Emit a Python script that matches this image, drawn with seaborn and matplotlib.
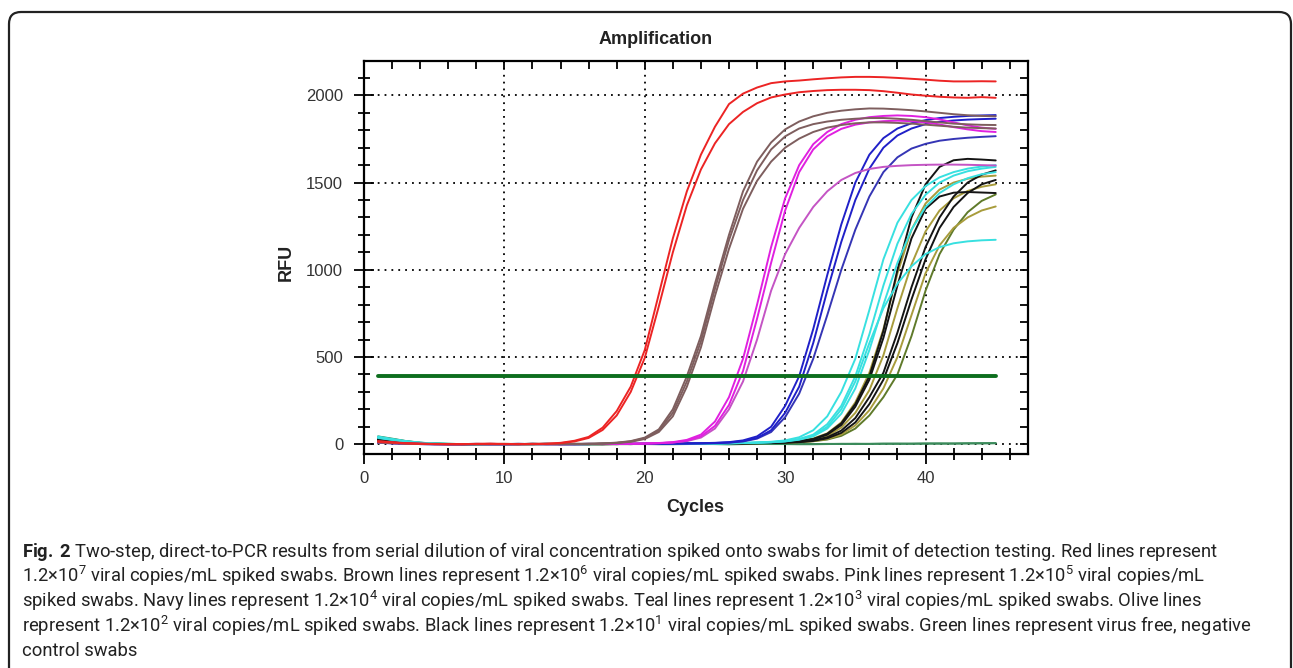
import matplotlib
matplotlib.use('Agg')
import matplotlib.pyplot as plt
import numpy as np
import pandas as pd
import seaborn as sns
from matplotlib.patches import FancyBboxPatch
from matplotlib.ticker import MultipleLocator

# RFU readings per cycle (1..45)
cycles = list(range(1, 46))

red_1 = [18, 12, 6, 3, 2, 1, 0, 2, 3, 2, 1, 2, 3, 8, 20,
         42, 95, 190, 330, 540, 860, 1180, 1450, 1660, 1820, 1950, 2010, 2045, 2070, 2080,
         2085, 2092, 2098, 2103, 2106, 2106, 2104, 2100, 2095, 2090, 2084, 2080, 2080, 2081, 2080]
red_2 = [14, 9, 5, 2, 1, 0, 1, 2, 2, 1, 0, 1, 2, 6, 16,
         36, 82, 165, 300, 495, 790, 1100, 1370, 1575, 1725, 1835, 1905, 1955, 1988, 2005,
         2018, 2025, 2030, 2032, 2032, 2030, 2024, 2015, 2005, 1998, 1992, 1988, 1986, 1990, 1986]

brown_1 = [16, 10, 5, 3, 1, 0, 1, 2, 1, 0, 1, 2, 2, 1, 2,
           3, 5, 9, 18, 38, 85, 200, 390, 620, 920, 1200, 1450, 1620, 1730, 1805,
           1850, 1880, 1900, 1912, 1920, 1925, 1924, 1920, 1915, 1908, 1900, 1892, 1886, 1882, 1880]
brown_2 = [12, 8, 4, 2, 1, 0, 0, 1, 2, 1, 0, 1, 1, 2, 1,
           2, 4, 8, 16, 34, 78, 180, 360, 590, 890, 1170, 1400, 1570, 1690, 1765,
           1810, 1835, 1850, 1860, 1866, 1870, 1870, 1866, 1860, 1852, 1845, 1838, 1834, 1831, 1830]
brown_3 = [10, 6, 3, 1, 0, 0, 1, 1, 0, 1, 2, 1, 0, 1, 2,
           2, 3, 7, 14, 30, 70, 160, 330, 555, 850, 1120, 1350, 1510, 1620, 1700,
           1752, 1790, 1815, 1830, 1840, 1845, 1845, 1842, 1838, 1832, 1826, 1820, 1815, 1812, 1810]

pink_1 = [14, 9, 5, 2, 1, 0, 1, 2, 1, 0, 1, 1, 2, 1, 0,
          1, 2, 2, 3, 4, 7, 12, 25, 55, 130, 270, 490, 800, 1130, 1410,
          1600, 1720, 1790, 1835, 1860, 1875, 1882, 1885, 1882, 1875, 1862, 1845, 1828, 1815, 1808]
pink_2 = [12, 8, 4, 2, 1, 0, 0, 1, 2, 1, 0, 1, 1, 0, 1,
          2, 1, 2, 3, 4, 6, 10, 20, 45, 105, 225, 420, 720, 1040, 1340,
          1560, 1690, 1765, 1808, 1832, 1845, 1852, 1855, 1852, 1845, 1833, 1818, 1805, 1795, 1790]
pink_3 = [10, 6, 3, 1, 0, 0, 1, 1, 0, 1, 2, 1, 0, 1, 1,
          2, 1, 2, 3, 4, 6, 10, 18, 38, 90, 200, 360, 600, 880, 1090,
          1240, 1360, 1450, 1515, 1555, 1578, 1590, 1596, 1600, 1602, 1603, 1603, 1602, 1600, 1598]

navy_1 = [10, 7, 4, 2, 1, 0, 1, 1, 0, 1, 2, 1, 0, 1, 1,
          2, 1, 2, 2, 3, 3, 4, 5, 6, 8, 12, 22, 45, 100, 220,
          390, 660, 970, 1260, 1500, 1660, 1755, 1810, 1840, 1858, 1870, 1877, 1882, 1885, 1887]
navy_2 = [8, 5, 3, 1, 0, 0, 1, 1, 0, 1, 1, 2, 1, 0, 1,
          1, 2, 1, 2, 2, 3, 4, 4, 5, 7, 10, 18, 36, 80, 180,
          330, 580, 880, 1160, 1400, 1580, 1700, 1770, 1810, 1835, 1848, 1856, 1861, 1864, 1866]
navy_3 = [9, 6, 3, 1, 0, 0, 0, 1, 1, 0, 1, 2, 1, 1, 0,
          1, 2, 1, 2, 3, 3, 3, 4, 5, 6, 9, 16, 32, 70, 155,
          290, 490, 740, 1000, 1230, 1420, 1560, 1645, 1695, 1722, 1740, 1750, 1757, 1762, 1766]

teal_1 = [40, 28, 16, 8, 4, 2, 1, 2, 1, 0, 1, 1, 2, 1, 0,
          1, 1, 2, 1, 2, 2, 3, 3, 4, 5, 6, 8, 10, 14, 22,
          40, 80, 160, 300, 490, 770, 1060, 1270, 1400, 1480, 1530, 1560, 1580, 1592, 1600]
teal_2 = [36, 25, 14, 7, 3, 1, 1, 0, 1, 1, 0, 1, 2, 1, 1,
          0, 1, 2, 1, 2, 2, 2, 3, 4, 4, 5, 7, 9, 12, 18,
          30, 55, 115, 220, 390, 630, 910, 1150, 1320, 1430, 1500, 1540, 1565, 1580, 1590]
teal_3 = [44, 30, 18, 9, 4, 2, 1, 1, 0, 1, 2, 1, 0, 1, 1,
          2, 1, 1, 2, 2, 3, 3, 3, 4, 5, 6, 7, 9, 11, 16,
          26, 45, 90, 175, 320, 540, 800, 1040, 1230, 1360, 1440, 1490, 1525, 1548, 1560]
teal_4 = [38, 26, 15, 8, 4, 2, 1, 1, 1, 0, 1, 1, 2, 1, 0,
          1, 2, 1, 1, 2, 2, 3, 3, 4, 4, 5, 7, 9, 12, 17,
          28, 50, 100, 200, 360, 580, 780, 920, 1020, 1090, 1130, 1152, 1163, 1169, 1172]

olive_1 = [34, 23, 13, 6, 3, 1, 1, 0, 1, 2, 1, 0, 1, 1, 2,
           1, 0, 1, 2, 2, 2, 3, 3, 4, 4, 5, 6, 8, 10, 13,
           20, 33, 62, 125, 240, 410, 660, 980, 1230, 1380, 1460, 1500, 1522, 1534, 1540]
olive_2 = [30, 20, 11, 5, 2, 1, 0, 1, 1, 0, 1, 2, 1, 1, 0,
           1, 2, 1, 1, 2, 2, 3, 3, 3, 4, 5, 6, 7, 9, 11,
           16, 26, 48, 95, 180, 310, 510, 780, 1030, 1220, 1340, 1410, 1452, 1476, 1490]
olive_3 = [42, 29, 17, 8, 4, 2, 1, 1, 0, 1, 1, 2, 1, 0, 1,
           1, 2, 1, 1, 2, 2, 2, 3, 3, 4, 4, 5, 6, 7, 9,
           12, 17, 27, 48, 90, 165, 270, 400, 620, 880, 1090, 1230, 1330, 1395, 1432]
olive_4 = [32, 22, 12, 6, 3, 1, 1, 0, 1, 1, 0, 1, 2, 1, 1,
           0, 1, 2, 1, 1, 2, 2, 3, 3, 3, 4, 5, 6, 7, 9,
           12, 18, 30, 56, 108, 195, 320, 500, 740, 980, 1140, 1240, 1300, 1340, 1363]

black_1 = [30, 20, 11, 5, 2, 1, 1, 0, 1, 1, 0, 1, 2, 1, 1,
           0, 1, 1, 2, 1, 2, 2, 3, 3, 4, 5, 6, 7, 9, 12,
           18, 30, 60, 120, 230, 390, 650, 1000, 1300, 1490, 1590, 1628, 1636, 1632, 1627]
black_2 = [26, 17, 9, 4, 2, 1, 0, 1, 1, 0, 1, 2, 1, 0, 1,
           1, 2, 1, 1, 2, 2, 3, 3, 3, 4, 5, 6, 7, 9, 11,
           17, 28, 55, 110, 215, 370, 610, 910, 1180, 1350, 1420, 1442, 1446, 1443, 1440]
black_3 = [28, 19, 10, 5, 2, 1, 1, 0, 1, 1, 1, 0, 1, 2, 1,
           1, 0, 1, 2, 1, 2, 2, 2, 3, 4, 4, 5, 6, 8, 10,
           14, 22, 40, 78, 150, 270, 410, 640, 900, 1130, 1300, 1420, 1500, 1545, 1570]
black_4 = [24, 16, 8, 4, 2, 1, 0, 1, 1, 0, 1, 1, 2, 1, 0,
           1, 1, 2, 1, 2, 2, 2, 3, 3, 4, 4, 5, 6, 7, 9,
           12, 19, 34, 65, 125, 230, 370, 580, 830, 1060, 1240, 1360, 1440, 1490, 1515]

green_1 = [45, 32, 18, 9, 4, 2, 1, 1, 2, 1, 0, 1, 2, 2, 1,
           0, 1, 1, 2, 1, 0, 1, 2, 1, 1, 0, 1, 2, 1, 1,
           0, 1, 2, 2, 3, 2, 3, 4, 3, 4, 5, 4, 5, 6, 6]
green_2 = [40, 28, 15, 7, 3, 1, 0, 1, 1, 2, 1, 0, 1, 1, 2,
           1, 0, 1, 2, 2, 1, 0, 1, 2, 1, 0, 1, 1, 2, 1,
           1, 0, 1, 2, 1, 2, 3, 2, 3, 4, 3, 4, 5, 5, 6]

threshold_rfu = 390
threshold_cycles = [1, 45]

curves = {
    'green_1': (green_1, '#3a8a5a'), 'green_2': (green_2, '#3a8a5a'),
    'olive_3': (olive_3, '#5f7a2a'), 'olive_4': (olive_4, '#a89c3c'),
    'olive_2': (olive_2, '#a89c3c'), 'olive_1': (olive_1, '#a89c3c'),
    'black_4': (black_4, '#141414'), 'black_3': (black_3, '#141414'),
    'black_2': (black_2, '#141414'), 'black_1': (black_1, '#141414'),
    'teal_4': (teal_4, '#38e0e0'), 'teal_3': (teal_3, '#38e0e0'),
    'teal_2': (teal_2, '#38e0e0'), 'teal_1': (teal_1, '#38e0e0'),
    'navy_3': (navy_3, '#3535b5'), 'navy_2': (navy_2, '#2020c8'), 'navy_1': (navy_1, '#2020c8'),
    'pink_3': (pink_3, '#c454c4'), 'pink_2': (pink_2, '#e020e0'), 'pink_1': (pink_1, '#e020e0'),
    'brown_3': (brown_3, '#7e5e5e'), 'brown_2': (brown_2, '#7e5e5e'), 'brown_1': (brown_1, '#7e5e5e'),
    'red_2': (red_2, '#ec2424'), 'red_1': (red_1, '#ec2424'),
}

rows = []
for name, (values, _) in curves.items():
    for c, v in zip(cycles, values):
        rows.append((name, c, v))
df = pd.DataFrame(rows, columns=['curve', 'cycle', 'rfu'])
palette = {name: col for name, (_, col) in curves.items()}

sns.set_theme(style='white')
plt.rcParams['font.family'] = ['Liberation Sans', 'DejaVu Sans']
plt.rcParams['mathtext.fontset'] = 'custom'
plt.rcParams['mathtext.rm'] = 'Roboto'
plt.rcParams['mathtext.bf'] = 'Roboto:bold'

W, H = 1293, 668
fig = plt.figure(figsize=(W / 100, H / 100), dpi=100)
ax = fig.add_axes([364 / W, 1 - 454 / H, (1028 - 364) / W, (454 - 61) / H])

sns.lineplot(data=df, x='cycle', y='rfu', hue='curve', hue_order=list(curves.keys()),
             palette=palette, estimator=None, sort=False, legend=False,
             linewidth=1.4, ax=ax)
ax.plot(threshold_cycles, [threshold_rfu] * len(threshold_cycles), color='#0d6e1e', linewidth=2.8, zorder=5)

ax.set_xlim(0, 47.3)
ax.set_ylim(-56, 2197)
ax.xaxis.set_major_locator(MultipleLocator(10))
ax.xaxis.set_minor_locator(MultipleLocator(2))
ax.yaxis.set_major_locator(MultipleLocator(500))
ax.yaxis.set_minor_locator(MultipleLocator(100))
ax.grid(True, which='major', color='black', linestyle=(0, (1, 2.8)), linewidth=1.3)
ax.grid(False, which='minor')
for s in ax.spines.values():
    s.set_visible(True)
    s.set_color('black')
    s.set_linewidth(1.6)
ax.tick_params(which='major', direction='inout', length=14, width=1.3, color='black',
               labelsize=12, labelcolor='#333333', pad=5, bottom=True, left=True)
ax.tick_params(which='minor', direction='inout', length=8, width=1.3, color='black',
               bottom=True, left=True)
ax.tick_params(axis='y', which='major', pad=8)
ax.set_xlabel('')
ax.set_ylabel('')

top = ax.secondary_xaxis('top')
top.xaxis.set_major_locator(MultipleLocator(10))
top.xaxis.set_minor_locator(MultipleLocator(2))
top.tick_params(which='both', direction='in', length=6, width=1.3, color='black', labeltop=False)
right = ax.secondary_yaxis('right')
right.yaxis.set_major_locator(MultipleLocator(500))
right.yaxis.set_minor_locator(MultipleLocator(100))
right.tick_params(which='both', direction='in', length=6, width=1.3, color='black', labelright=False)

fig.text(656 / W, 1 - 39 / H, 'Amplification', ha='center', va='center', fontsize=13, fontweight='bold', color='#222222')
fig.text(695 / W, 1 - 508 / H, 'Cycles', ha='center', va='center', fontsize=13, fontweight='bold', color='#222222')
fig.text(286 / W, 1 - 262 / H, 'RFU', ha='center', va='center', rotation=90, fontsize=13, fontweight='bold', color='#222222')

caption_lines = [
    r'$\mathbf{Fig.\,2}$ Two-step, direct-to-PCR results from serial dilution of viral concentration spiked onto swabs for limit of detection testing. Red lines represent',
    r'1.2×10$^{7}$ viral copies/mL spiked swabs. Brown lines represent 1.2×10$^{6}$ viral copies/mL spiked swabs. Pink lines represent 1.2×10$^{5}$ viral copies/mL',
    r'spiked swabs. Navy lines represent 1.2×10$^{4}$ viral copies/mL spiked swabs. Teal lines represent 1.2×10$^{3}$ viral copies/mL spiked swabs. Olive lines',
    r'represent 1.2×10$^{2}$ viral copies/mL spiked swabs. Black lines represent 1.2×10$^{1}$ viral copies/mL spiked swabs. Green lines represent virus free, negative',
    'control swabs',
]
baselines = [557, 582, 607, 632, 656]
texts = []
for line, yb in zip(caption_lines, baselines):
    texts.append(fig.text(22 / W, 1 - yb / H, line, ha='left', va='baseline', fontsize=13,
                          family=['Roboto', 'DejaVu Sans'], color='#222222'))

# scale caption font so the first line spans like the reference
fig.canvas.draw()
renderer = fig.canvas.get_renderer()
width = texts[0].get_window_extent(renderer).width
scale = (1216 - 22) / width
for t in texts:
    t.set_fontsize(13 * scale)

border = FancyBboxPatch((9 / W, -0.1), (1291 - 9) / W, (1 - 12 / H) + 0.1,
                        boxstyle='round,pad=0,rounding_size=%f' % (12 / W),
                        mutation_aspect=W / H, transform=fig.transFigure,
                        fill=False, edgecolor='#222222', linewidth=1.6, clip_on=False)
fig.add_artist(border)

fig.savefig('out.png', dpi=100)
